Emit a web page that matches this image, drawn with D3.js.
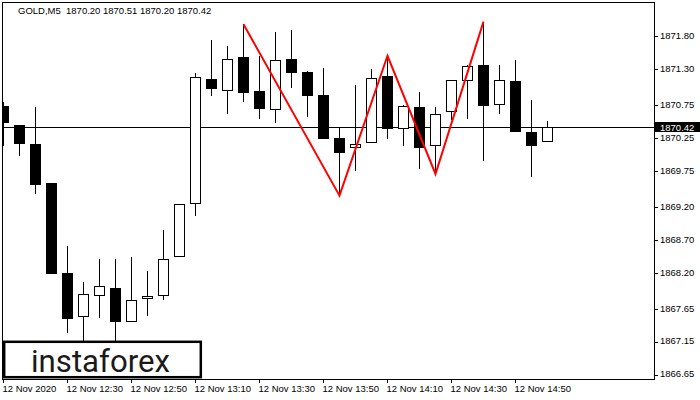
<!DOCTYPE html>
<html>
<head>
<meta charset="utf-8">
<script src="https://cdn.jsdelivr.net/npm/d3@7/dist/d3.min.js"></script>
<style>
  html, body { margin: 0; padding: 0; background: #fff; }
  svg { display: block; }
</style>
</head>
<body>
<svg id="chart" width="700" height="400"></svg>
<script>
// ---- data ----
const symbol = "GOLD,M5";
const lastOHLC = ["1870.20", "1870.51", "1870.20", "1870.42"];
const opens  = [1870.75,1870.46,1870.17,1869.58,1868.20,1867.54,1867.86,1867.98,1867.45,1867.80,1867.85,1868.45,1869.26,1871.15,1870.98,1871.49,1870.97,1870.68,1871.46,1871.26,1870.91,1870.26,1870.10,1870.18,1871.20,1870.39,1870.73,1870.13,1870.65,1871.12,1871.37,1870.76,1871.13,1870.35,1870.20];
const highs  = [1870.81,1870.46,1870.73,1869.58,1868.61,1868.06,1868.42,1868.42,1868.45,1868.23,1868.86,1869.26,1871.25,1871.75,1871.66,1871.99,1871.50,1871.87,1871.90,1871.28,1871.33,1870.42,1871.07,1871.31,1871.51,1870.76,1870.96,1870.73,1871.14,1871.37,1872.03,1871.37,1871.45,1870.84,1870.51];
const lows   = [1870.13,1869.99,1869.40,1868.19,1867.29,1867.03,1867.52,1867.10,1867.45,1867.55,1867.79,1868.45,1869.07,1870.90,1870.63,1870.80,1870.54,1870.48,1871.02,1870.57,1870.24,1869.38,1869.75,1870.18,1870.25,1870.14,1869.78,1869.71,1870.53,1870.54,1869.91,1870.63,1870.35,1869.67,1870.20];
const closes = [1870.48,1870.17,1869.55,1868.19,1867.51,1867.88,1868.01,1867.46,1867.79,1867.86,1868.42,1869.26,1871.18,1871.01,1871.46,1870.95,1870.70,1871.44,1871.24,1870.89,1870.24,1870.03,1870.16,1871.17,1870.40,1870.74,1870.10,1870.62,1871.14,1871.35,1870.74,1871.14,1870.35,1870.14,1870.42];
const currentPrice = 1870.42;
const priceTicks = [1871.80,1871.30,1870.75,1870.25,1869.75,1869.20,1868.70,1868.20,1867.65,1867.15,1866.65];
const timeTickIndex = [0,4,8,12,16,20,24,28,32];
const timeTickLabels = ["12 Nov 2020","12 Nov 12:30","12 Nov 12:50","12 Nov 13:10","12 Nov 13:30","12 Nov 13:50","12 Nov 14:10","12 Nov 14:30","12 Nov 14:50"];
const patternIndex = [15,21,24,27,30];
const patternPrice = [1871.99,1869.38,1871.51,1869.71,1872.03];
const logoText = "instaforex";

// ---- layout ----
const svg = d3.select("#chart");
const plot = {left: 2.5, right: 654.5, top: 2.5, bottom: 379.5};
const x = d3.scaleLinear().domain([0, 34]).range([3.5, 547.5]);
const y = d3.scaleLinear().domain([1866.65, 1871.80]).range([375, 36.7]);
const font = "'Liberation Sans', Arial, sans-serif";

svg.append("defs").append("clipPath").attr("id", "clip")
  .append("rect").attr("x", 3).attr("y", 3).attr("width", 651).attr("height", 376);

const data = opens.map((o, i) => ({i, o, h: highs[i], l: lows[i], c: closes[i]}));

const g = svg.append("g").attr("clip-path", "url(#clip)");

// current price line
const cpY = Math.floor(y(currentPrice)) + 0.5;
g.append("line").attr("x1", 3).attr("x2", 654).attr("y1", cpY).attr("y2", cpY)
  .attr("stroke", "#000").attr("stroke-width", 1);

// wicks
g.selectAll("line.wick").data(data).join("line").attr("class", "wick")
  .attr("x1", d => x(d.i)).attr("x2", d => x(d.i))
  .attr("y1", d => Math.round(y(d.h))).attr("y2", d => Math.round(y(d.l)))
  .attr("stroke", "#000").attr("stroke-width", 1);

// bodies
g.selectAll("rect.body").data(data).join("rect").attr("class", "body")
  .each(function(d) {
    const top = Math.round(y(Math.max(d.o, d.c)));
    const bot = Math.max(Math.round(y(Math.min(d.o, d.c))), top + 1);
    const left = x(d.i) - 5.5;
    const sel = d3.select(this);
    if (d.c < d.o) {
      sel.attr("x", left).attr("y", top).attr("width", 11).attr("height", bot - top)
        .attr("fill", "#000");
    } else {
      sel.attr("x", left + 0.5).attr("y", top + 0.5).attr("width", 10).attr("height", Math.max(bot - top - 1, 1))
        .attr("fill", "#fff").attr("stroke", "#000").attr("stroke-width", 1);
    }
  });

// pattern zigzag
const zz = d3.line().x(d => x(d[0])).y(d => y(d[1]));
g.append("path").datum(patternIndex.map((k, j) => [k, patternPrice[j]]))
  .attr("d", zz).attr("fill", "none").attr("stroke", "#ff0000").attr("stroke-width", 2);

// frame
svg.append("rect").attr("x", plot.left).attr("y", plot.top)
  .attr("width", plot.right - plot.left).attr("height", plot.bottom - plot.top)
  .attr("fill", "none").attr("stroke", "#000").attr("stroke-width", 1);

// right axis
const ra = svg.append("g");
ra.selectAll("line").data(priceTicks).join("line")
  .attr("x1", 654).attr("x2", 658)
  .attr("y1", d => Math.floor(y(d)) + 0.5).attr("y2", d => Math.floor(y(d)) + 0.5)
  .attr("stroke", "#000");
ra.selectAll("text").data(priceTicks).join("text")
  .attr("x", 660).attr("y", d => y(d) - 1).attr("dy", "0.35em")
  .attr("font-family", font).attr("font-size", "9.5px").attr("fill", "#000")
  .text(d => d.toFixed(2));

// current price tag
svg.append("rect").attr("x", 655).attr("y", cpY - 5.5).attr("width", 45).attr("height", 10).attr("fill", "#000");
svg.append("text").attr("x", 660).attr("y", cpY).attr("dy", "0.35em")
  .attr("font-family", font).attr("font-size", "9.5px").attr("fill", "#fff")
  .text(currentPrice.toFixed(2));

// bottom axis
const ba = svg.append("g");
ba.selectAll("line").data(timeTickIndex).join("line")
  .attr("x1", d => Math.floor(x(d)) + 0.5).attr("x2", d => Math.floor(x(d)) + 0.5)
  .attr("y1", 379).attr("y2", 383).attr("stroke", "#000");
ba.selectAll("text").data(timeTickIndex).join("text")
  .attr("x", d => x(d) - 1).attr("y", 392)
  .attr("font-family", font).attr("font-size", "9.5px").attr("fill", "#000")
  .text((d, j) => timeTickLabels[j]);

// header
svg.append("text").attr("x", 18).attr("y", 14)
  .attr("font-family", font).attr("font-size", "9.5px").attr("fill", "#000")
  .attr("xml:space", "preserve")
  .text(symbol + "  " + lastOHLC.join(" "));

// logo
svg.append("rect").attr("x", 4.2).attr("y", 341.8).attr("width", 196.6).attr("height", 35.4)
  .attr("fill", "#fff").attr("stroke", "#000").attr("stroke-width", 2.5);
svg.append("text").attr("x", 31).attr("y", 371.5)
  .attr("font-family", "Roboto, 'DejaVu Sans', sans-serif").attr("font-size", "31px")
  .attr("fill", "#1a1a1a").attr("textLength", 139).attr("lengthAdjust", "spacingAndGlyphs")
  .text(logoText);
</script>
</body>
</html>
